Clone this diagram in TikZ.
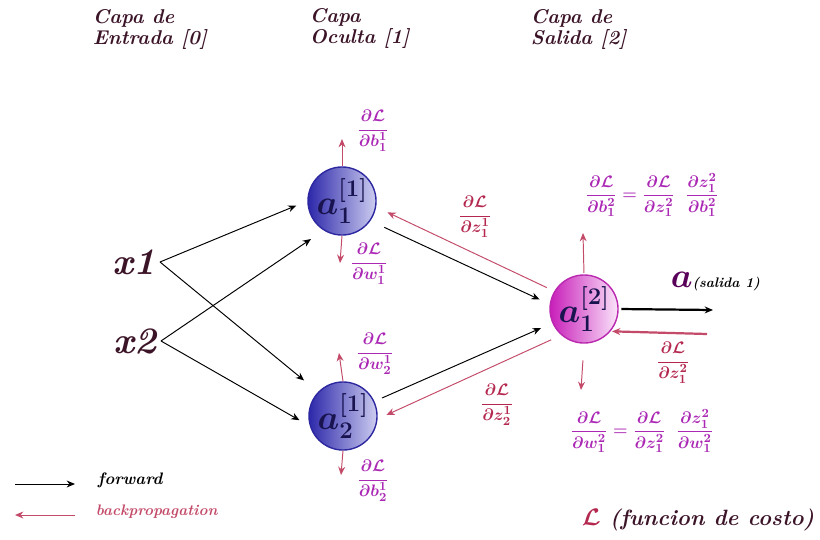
\documentclass[tikz,border=0pt]{standalone}
\usepackage{amsmath}
\usepackage{bm}
\usetikzlibrary{arrows.meta}
\definecolor{vino}{RGB}{60,20,40}
\definecolor{morado}{RGB}{170,40,180}
\definecolor{retro}{RGB}{195,75,105}
\definecolor{carmin}{RGB}{180,40,80}
\definecolor{tinta}{RGB}{25,20,80}
\newcommand{\parc}[2]{\dfrac{\partial #1}{\partial #2}}
\newcommand{\costo}{\mathcal{L}}

\begin{document}
\begin{tikzpicture}[x=0.01in,y=-0.01in,
  >={Stealth[length=6pt,width=5pt]},
  capa/.style={anchor=north west,align=left,text=vino,font=\Large\bfseries\itshape},
  entrada/.style={text=vino,font=\fontsize{27}{27}\selectfont\bfseries\itshape},
  neurona/.style={circle,minimum size=0.68in,inner sep=0pt,line width=1pt,
    text=tinta,font=\fontsize{26}{26}\selectfont\boldmath},
  oculta/.style={neurona,draw={rgb,255:red,45;green,40;blue,160},
    left color={rgb,255:red,45;green,40;blue,170},right color={rgb,255:red,205;green,205;blue,240}},
  salida/.style={neurona,draw={rgb,255:red,185;green,40;blue,175},
    left color={rgb,255:red,200;green,30;blue,185},right color={rgb,255:red,250;green,228;blue,250}},
  fwd/.style={->,black,line width=0.7pt},
  back/.style={->,retro,line width=0.7pt},
  deriv/.style={text=morado,inner sep=1pt,font=\fontsize{13}{15}\selectfont\boldmath},
  derivz/.style={deriv,text=carmin}]
\useasboundingbox (0,0) rectangle (820,540);

\node[capa] (t0) at (88,5) {Capa de\\[-3pt]Entrada [0]};
\node[capa] (t1) at (305,4) {Capa\\[-3pt]Oculta [1]};
\node[capa] (t2) at (526,5) {Capa de\\[-3pt]Salida [2]};

\node[entrada,anchor=east] (x1) at (160,262) {x1};
\node[entrada,anchor=east] (x2) at (161,341) {x2};

\node[oculta] (a11) at (342,201) {$a^{[1]}_{1}$};
\node[oculta] (a12) at (343,416) {$a^{[1]}_{2}$};
\node[salida] (a21) at (584,309) {$a^{[2]}_{1}$};

\draw[fwd,shorten >=8.6pt] (x1.east) -- (a11.west);
\draw[fwd,shorten >=13pt] (x1.east) -- (a12.136);
\draw[fwd,shorten >=11pt] (x2.east) -- (a11.238);
\draw[fwd,shorten >=8.6pt] (x2.east) -- (a12.197);
\draw[fwd,shorten <=11pt,shorten >=8pt] (a11.-35) -- (a21.172);
\draw[fwd,shorten <=6pt,shorten >=9pt] (a12.25) -- (a21.204);
\draw[back,shorten <=6pt,shorten >=9pt] (a21.149) -- (a11.-10);
\draw[back,shorten <=8pt,shorten >=7pt] (a21.229) -- (a12.-5);

\coordinate (fin) at (713,310);
\coordinate (ini) at (707,334);
\draw[fwd,line width=1.6pt,shorten <=2pt] (a21.east) -- (fin);
\draw[back,line width=1.6pt,shorten >=1pt] (ini) -- (a21.-40);

\coordinate (b11) at (342,139);
\coordinate (w11) at (340,263);
\coordinate (w21) at (339,353);
\coordinate (b21) at (341,475);
\coordinate (b12) at (583,233);
\coordinate (w12) at (581,390);
\draw[back] (a11.north) -- (b11);
\draw[back] (a11.south) -- (w11);
\draw[back] (a12.north) -- (w21);
\draw[back] (a12.south) -- (b21);
\draw[back,shorten <=1pt] (a21.north) -- (b12);
\draw[back,shorten <=12pt] (a21.south) -- (w12);

\node[deriv] (db11) at (373,131) {$\parc{\costo}{b^1_1}$};
\node[deriv] (dw11) at (369,264) {$\parc{\costo}{w^1_1}$};
\node[deriv] (dw21) at (375,354) {$\parc{\costo}{w^1_2}$};
\node[deriv] (db21) at (373,481) {$\parc{\costo}{b^1_2}$};
\node[derivz] (dz11) at (475,217) {$\parc{\costo}{z^1_1}$};
\node[derivz] (dz21) at (497,405) {$\parc{\costo}{z^1_2}$};
\node[derivz] (dz12) at (673,363) {$\parc{\costo}{z^2_1}$};
\node[deriv] (db12) at (652,195) {$\parc{\costo}{b^2_1}=\parc{\costo}{z^2_1}\;\;\parc{z^2_1}{b^2_1}$};
\node[deriv] (dw12) at (642,431) {$\parc{\costo}{w^2_1}=\parc{\costo}{z^2_1}\;\;\parc{z^2_1}{w^2_1}$};

\node[anchor=west] (sal) at (666,282) {{\fontsize{26}{26}\selectfont\color{violet!70!black}$\bm{a}$}{\bfseries\itshape(salida 1)}};

\coordinate (f0) at (15,484);
\coordinate (f1) at (75,484);
\coordinate (r0) at (75,515);
\coordinate (r1) at (15,515);
\draw[fwd] (f0) -- (f1);
\draw[back] (r0) -- (r1);
\node[anchor=west,font=\large\bfseries\itshape] (lf) at (93,480) {forward};
\node[anchor=west,font=\fontsize{11}{13}\selectfont\bfseries\itshape,text=retro] (lr) at (91,512) {backpropagation};
\node[anchor=east,text=vino,font=\fontsize{16}{19}\selectfont\bfseries\itshape] (lc) at (819,520) {{\color{carmin}$\bm{\costo}$} (funcion de costo)};
\end{tikzpicture}
\end{document}
